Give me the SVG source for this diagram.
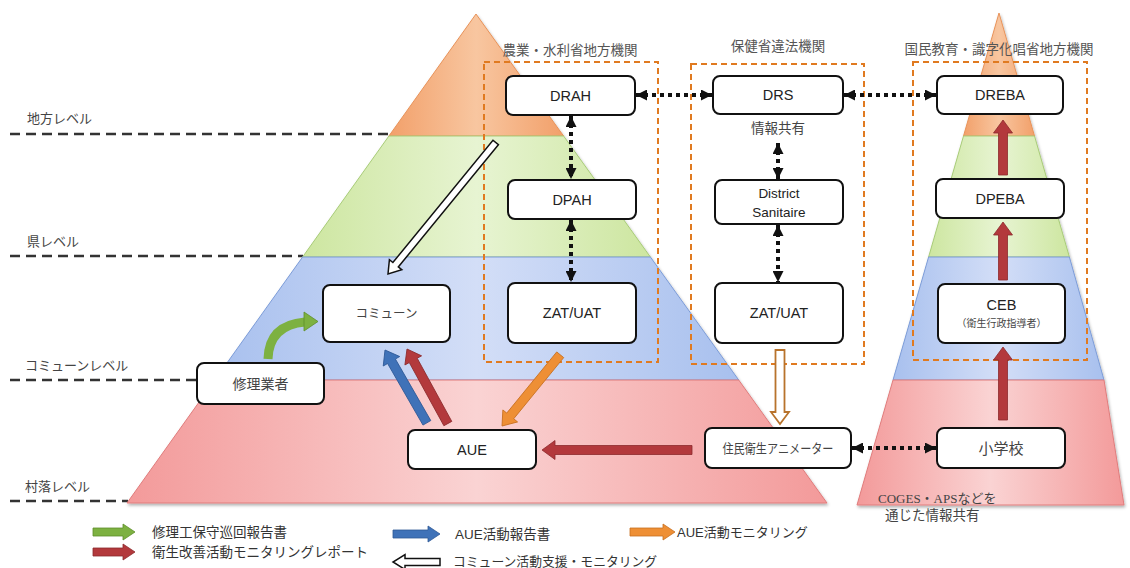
<svg xmlns="http://www.w3.org/2000/svg" width="1130" height="568" viewBox="0 0 1130 568">
<defs>
  <linearGradient id="gO" x1="0" y1="0" x2="1" y2="0">
    <stop offset="0" stop-color="#F2A06A"/><stop offset="0.5" stop-color="#F8C6A0"/><stop offset="1" stop-color="#F2A06A"/>
  </linearGradient>
  <linearGradient id="gG" x1="0" y1="0" x2="1" y2="0">
    <stop offset="0" stop-color="#CDE6A0"/><stop offset="0.5" stop-color="#E7F4D2"/><stop offset="1" stop-color="#CDE6A0"/>
  </linearGradient>
  <linearGradient id="gB" x1="0" y1="0" x2="1" y2="0">
    <stop offset="0" stop-color="#A8C0EE"/><stop offset="0.5" stop-color="#D3DEF7"/><stop offset="1" stop-color="#A8C0EE"/>
  </linearGradient>
  <linearGradient id="gP" x1="0" y1="0" x2="1" y2="0">
    <stop offset="0" stop-color="#F39A9A"/><stop offset="0.5" stop-color="#FAD3D3"/><stop offset="1" stop-color="#F39A9A"/>
  </linearGradient>
  <marker id="dh" viewBox="0 0 10 10" refX="10" refY="5" markerWidth="11" markerHeight="11" markerUnits="userSpaceOnUse" orient="auto-start-reverse">
    <path d="M0,0 L10,5 L0,10 z" fill="#111"/>
  </marker>
  <filter id="sh" x="-5%" y="-5%" width="110%" height="112%">
    <feDropShadow dx="1" dy="2" stdDeviation="1.5" flood-color="#000" flood-opacity="0.3"/>
  </filter>
</defs>
<style>
  .box{fill:#fff;stroke:#111;stroke-width:2}
  .grp{fill:none;stroke:#E07A20;stroke-width:2;stroke-dasharray:6,4}
  .lvl{stroke:#333;stroke-width:2.5;stroke-dasharray:10,6}
  .dot{fill:none;stroke:#111;stroke-width:4;stroke-dasharray:4,4;marker-start:url(#dh);marker-end:url(#dh)}
  text{font-family:"Liberation Sans","Noto Sans CJK JP",sans-serif;fill:#222}
  .t{font-size:14.5px;text-anchor:middle}
  .h{font-size:13.5px;text-anchor:middle;fill:#555}
  .lv{font-size:13px;fill:#444}
  .lg{font-size:13.5px;fill:#333}
  .red{fill:#B3393C;stroke:#8C2A2C;stroke-width:0.8}
  .blue{fill:#3F72B8;stroke:#2D5895;stroke-width:0.8}
  .orng{fill:#EE8F35;stroke:#C66E1E;stroke-width:0.8}
  .grn{fill:#7DB141;stroke:#5E8E2A;stroke-width:0.8}
  .hol{fill:#fff;stroke:#111;stroke-width:1.5}
  .holo{fill:#fff;stroke:#B8732C;stroke-width:1.8}
</style>

<!-- level lines -->
<g id="levels">
  <line class="lvl" x1="10" y1="134" x2="389" y2="134"/>
  <line class="lvl" x1="10" y1="256" x2="303" y2="256"/>
  <line class="lvl" x1="10" y1="380" x2="197" y2="380"/>
  <line class="lvl" x1="10" y1="501" x2="128" y2="501"/>
  <text class="lv" x="27" y="123">地方レベル</text>
  <text class="lv" x="27" y="246">県レベル</text>
  <text class="lv" x="25" y="370">コミューンレベル</text>
  <text class="lv" x="25" y="491">村落レベル</text>
</g>

<!-- left pyramid -->
<g id="pyramid-left" filter="url(#sh)">
  <polygon points="476,14 563.6,136 388.9,136" fill="url(#gO)" stroke="#E8935A" stroke-width="1"/>
  <polygon points="388.9,136 563.6,136 650.4,257 302.6,257" fill="url(#gG)" stroke="#A8CC78" stroke-width="1"/>
  <polygon points="302.6,257 650.4,257 738.7,380 214.8,380" fill="url(#gB)" stroke="#7C9CD8" stroke-width="1"/>
  <polygon points="214.8,380 738.7,380 827,503 127,503" fill="url(#gP)" stroke="#E07C7C" stroke-width="1"/>
</g>

<!-- right pyramid -->
<g id="pyramid-right" filter="url(#sh)">
  <polygon points="999,13 1034.5,136 963.5,136" fill="url(#gO)" stroke="#E8935A" stroke-width="1"/>
  <polygon points="963.5,136 1034.5,136 1069.4,257 928.6,257" fill="url(#gG)" stroke="#A8CC78" stroke-width="1"/>
  <polygon points="928.6,257 1069.4,257 1104,380 893,380" fill="url(#gB)" stroke="#7C9CD8" stroke-width="1"/>
  <polygon points="893,380 1104,380 1124,505 857,505" fill="url(#gP)" stroke="#E07C7C" stroke-width="1"/>
</g>

<!-- group frames -->
<g id="groups">
  <rect class="grp" x="484" y="62" width="174" height="300"/>
  <rect class="grp" x="691" y="64" width="173" height="300"/>
  <rect class="grp" x="913" y="62" width="174" height="298"/>
  <text class="h" x="570" y="55">農業・水利省地方機関</text>
  <text class="h" x="778" y="51">保健省違法機関</text>
  <text class="h" x="999" y="54">国民教育・識字化唱省地方機関</text>
</g>

<!-- nodes -->
<g id="n-drah"><rect class="box" x="506" y="76" width="129" height="39" rx="7"/><text class="t" x="570.5" y="100.5">DRAH</text></g>
<g id="n-drs"><rect class="box" x="713" y="76" width="130" height="38" rx="7"/><text class="t" x="778" y="100">DRS</text>
  <text class="t" x="778" y="133" style="font-size:13.5px;fill:#444">情報共有</text></g>
<g id="n-dreba"><rect class="box" x="937" y="76" width="126" height="38" rx="7"/><text class="t" x="1000" y="100">DREBA</text></g>
<g id="n-dpah"><rect class="box" x="508" y="180" width="128" height="39" rx="7"/><text class="t" x="572" y="204.5">DPAH</text></g>
<g id="n-ds"><rect class="box" x="715" y="180" width="128" height="44" rx="7"/><text class="t" x="779" y="198" style="font-size:13.5px">District</text><text class="t" x="779" y="217" style="font-size:13.5px">Sanitaire</text></g>
<g id="n-dpeba"><rect class="box" x="936" y="179" width="128" height="39" rx="7"/><text class="t" x="1000" y="203.5">DPEBA</text></g>
<g id="n-zat1"><rect class="box" x="508" y="283" width="128" height="60" rx="7"/><text class="t" x="572" y="318">ZAT/UAT</text></g>
<g id="n-zat2"><rect class="box" x="715" y="283" width="128" height="60" rx="7"/><text class="t" x="779" y="318">ZAT/UAT</text></g>
<g id="n-ceb"><rect class="box" x="938" y="284" width="127" height="59" rx="7"/><text class="t" x="1001.5" y="310">CEB</text><text class="t" x="1001.5" y="327" style="font-size:10px;fill:#444">（衛生行政指導者）</text></g>
<g id="n-commune"><rect class="box" x="323" y="285" width="127" height="57" rx="7"/><text class="t" x="386.5" y="318" style="font-size:12.5px;fill:#444">コミューン</text></g>
<g id="n-repair"><rect class="box" x="197" y="363" width="127" height="41" rx="7"/><text class="t" x="260.5" y="388.5" style="font-size:14px;fill:#444">修理業者</text></g>
<g id="n-aue"><rect class="box" x="408" y="430" width="128" height="39" rx="7"/><text class="t" x="472" y="454.5">AUE</text></g>
<g id="n-anim"><rect class="box" x="705" y="428" width="146" height="40" rx="7"/><text class="t" x="778" y="453" style="font-size:13px;fill:#444" textLength="111" lengthAdjust="spacingAndGlyphs">住民衛生アニメーター</text></g>
<g id="n-school"><rect class="box" x="937" y="428" width="128" height="40" rx="7"/><text class="t" x="1001" y="453.5" style="font-size:15px;fill:#444">小学校</text></g>

<text x="878" y="503" style="font-size:13px;fill:#444;font-family:'Liberation Serif','Noto Sans CJK JP',serif">COGES・APSなどを</text>
<text x="885" y="520" style="font-size:13.5px;fill:#444">通じた情報共有</text>

<!-- connectors -->
<g id="connectors">
  <line class="dot" x1="636" y1="95" x2="712" y2="95"/>
  <line class="dot" x1="844" y1="95" x2="936" y2="95"/>
  <line class="dot" x1="571" y1="116" x2="571" y2="179"/>
  <line class="dot" x1="571" y1="220" x2="571" y2="282"/>
  <line class="dot" x1="778" y1="143" x2="778" y2="179"/>
  <line class="dot" x1="778" y1="225" x2="778" y2="282"/>
  <line class="dot" x1="852" y1="448" x2="936" y2="448"/>

  <polygon class="hol" transform="translate(388,274) rotate(129.3)" points="-170,-3.5 -12,-3.5 -12,-8 0,0 -12,8 -12,3.5 -170,3.5"/>
  <polygon class="holo" transform="translate(780,424) rotate(90)" points="-74,-4.5 -12,-4.5 -12,-9 0,0 -12,9 -12,4.5 -74,4.5"/>

  <polygon class="blue" transform="translate(385,350) rotate(-119.9)" points="-84,-4.5 -13,-4.5 -13,-9.5 0,0 -13,9.5 -13,4.5 -84,4.5"/>
  <polygon class="red" transform="translate(407,349) rotate(-118.7)" points="-85,-4.5 -13,-4.5 -13,-9.5 0,0 -13,9.5 -13,4.5 -85,4.5"/>
  <polygon class="orng" transform="translate(502,426) rotate(129.25)" points="-92,-4.5 -13,-4.5 -13,-9.5 0,0 -13,9.5 -13,4.5 -92,4.5"/>
  <polygon class="red" transform="translate(542,450) rotate(180)" points="-150,-4.5 -13,-4.5 -13,-9.5 0,0 -13,9.5 -13,4.5 -150,4.5"/>
  <polygon class="red" transform="translate(1003,347) rotate(-90)" points="-73,-4.5 -13,-4.5 -13,-9.5 0,0 -13,9.5 -13,4.5 -73,4.5"/>
  <polygon class="red" transform="translate(1003,222) rotate(-90)" points="-58,-4.5 -13,-4.5 -13,-9.5 0,0 -13,9.5 -13,4.5 -58,4.5"/>
  <polygon class="red" transform="translate(1003,120) rotate(-90)" points="-55,-4.5 -13,-4.5 -13,-9.5 0,0 -13,9.5 -13,4.5 -55,4.5"/>

  <path d="M268,359 Q269,325 305,322" fill="none" stroke="#7DB141" stroke-width="9"/>
  <polygon class="grn" points="304,312 318,321.5 304,331"/>
</g>

<!-- legend -->
<g id="legend">
  <polygon class="grn" transform="translate(135,532)" points="-42,-4 -12,-4 -12,-8 0,0 -12,8 -12,4 -42,4"/>
  <polygon class="red" transform="translate(135,552)" points="-42,-4 -12,-4 -12,-8 0,0 -12,8 -12,4 -42,4"/>
  <polygon class="blue" transform="translate(440,534)" points="-47,-4 -12,-4 -12,-8 0,0 -12,8 -12,4 -47,4"/>
  <polygon class="hol" transform="translate(393,562) rotate(180)" points="-47,-3.5 -12,-3.5 -12,-7.5 0,0 -12,7.5 -12,3.5 -47,3.5"/>
  <polygon class="orng" transform="translate(675,532)" points="-45,-4 -12,-4 -12,-8 0,0 -12,8 -12,4 -45,4"/>
  <text class="lg" x="152" y="537">修理工保守巡回報告書</text>
  <text class="lg" x="152" y="557">衛生改善活動モニタリングレポート</text>
  <text class="lg" x="455" y="539">AUE活動報告書</text>
  <text class="lg" x="453" y="566" style="font-size:12.8px">コミューン活動支援・モニタリング</text>
  <text class="lg" x="677" y="537" style="font-size:13px">AUE活動モニタリング</text>
</g>
</svg>
